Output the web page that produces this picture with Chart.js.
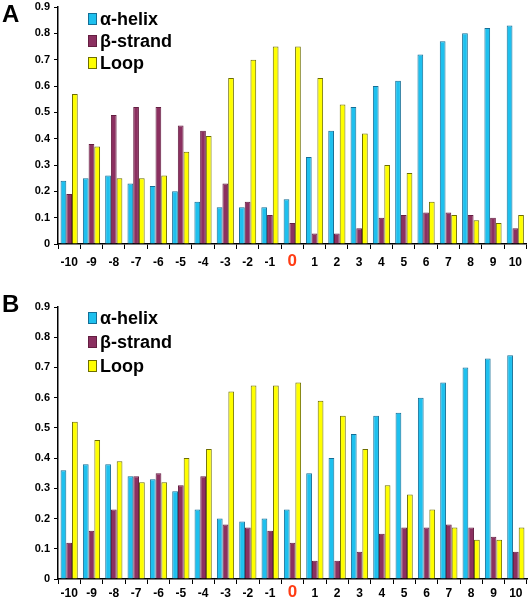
<!DOCTYPE html>
<html>
<head>
<meta charset="utf-8">
<script src="https://cdn.jsdelivr.net/npm/chart.js@4.4.0/dist/chart.umd.min.js"></script>
<style>
  body { margin: 0; background: #fff; }
  #wrap { position: relative; width: 528px; height: 600px; }
  .panel { position: absolute; left: 0; width: 528px; }
  .letter { position: absolute; left: 2px; font: bold 24px "Liberation Sans", Arial, sans-serif; color: #000; }
</style>
</head>
<body>
<div id="wrap">
  <div class="panel" style="top:0;height:290px"><canvas id="chartA"></canvas></div>
  <div class="panel" style="top:290px;height:310px"><canvas id="chartB"></canvas></div>
  <div class="letter" style="top:0px">A</div>
  <div class="letter" style="top:290px">B</div>
</div>
<script>
// posiciones relativas al residuo central
var posiciones = ['-10','-9','-8','-7','-6','-5','-4','-3','-2','-1','0','1','2','3','4','5','6','7','8','9','10'];
var nombresSeries = ['\u03B1-helix', '\u03B2-strand', 'Loop'];

// panel A
var helixA  = [0.24,0.25,0.26,0.23,0.22,0.20,0.16,0.14,0.14,0.14,0.17,0.33,0.43,0.52,0.60,0.62,0.72,0.77,0.80,0.82,0.83];
var strandA = [0.19,0.38,0.49,0.52,0.52,0.45,0.43,0.23,0.16,0.11,0.08,0.04,0.04,0.06,0.10,0.11,0.12,0.12,0.11,0.10,0.06];
var loopA   = [0.57,0.37,0.25,0.25,0.26,0.35,0.41,0.63,0.70,0.75,0.75,0.63,0.53,0.42,0.30,0.27,0.16,0.11,0.09,0.08,0.11];

// panel B
var helixB  = [0.36,0.38,0.38,0.34,0.33,0.29,0.23,0.20,0.19,0.20,0.23,0.35,0.40,0.48,0.54,0.55,0.60,0.65,0.70,0.73,0.74];
var strandB = [0.12,0.16,0.23,0.34,0.35,0.31,0.34,0.18,0.17,0.16,0.12,0.06,0.06,0.09,0.15,0.17,0.17,0.18,0.17,0.14,0.09];
var loopB   = [0.52,0.46,0.39,0.32,0.32,0.40,0.43,0.62,0.64,0.64,0.65,0.59,0.54,0.43,0.31,0.28,0.23,0.17,0.13,0.13,0.17];

var colores = ['rgb(30, 192, 238)', 'rgb(139, 48, 96)', 'rgb(255, 255, 0)'];
var bordes  = ['rgb(20, 110, 150)', 'rgb(100, 30, 65)', 'rgb(110, 110, 0)'];
var rojoCero = 'rgb(255, 60, 20)';

// leyenda dentro del area del grafico + el "0" rojo del eje x
var leyendaInterna = {
    id: 'leyendaInterna',
    afterDraw: function(chart, args, opts) {
        var ctx = chart.ctx;
        var x = chart.chartArea.left + 30;
        var y = chart.chartArea.top + opts.top;
        ctx.save();
        ctx.font = 'bold 18px "Liberation Sans", Arial, sans-serif';
        ctx.textBaseline = 'middle';
        chart.data.datasets.forEach(function(ds, i) {
            var cy = y + i * opts.gap;
            ctx.fillStyle = ds.backgroundColor;
            ctx.fillRect(x, cy - 6, 9, 12);
            ctx.strokeStyle = ds.borderColor;
            ctx.lineWidth = 1;
            ctx.strokeRect(x + 0.5, cy - 5.5, 8, 11);
            ctx.fillStyle = '#000';
            ctx.fillText(ds.label, x + 12, cy + 1);
        });

        // etiqueta del residuo 0, mas grande y en rojo
        var escalaX = chart.scales.x;
        var idx = posiciones.indexOf('0');
        ctx.font = 'bold 17px "Liberation Sans", Arial, sans-serif';
        ctx.fillStyle = rojoCero;
        ctx.textAlign = 'center';
        ctx.textBaseline = 'middle';
        ctx.fillText('0', escalaX.getPixelForTick(idx), chart.chartArea.bottom + opts.ceroY);
        ctx.restore();
    }
};

function crearGrafico(id, series, alturaX, padX, topPad, leyendaTop, leyendaGap, ceroY) {
    var data = {
        labels: posiciones,
        datasets: series.map(function(valores, i) {
            return {
                label: nombresSeries[i],
                data: valores,
                backgroundColor: colores[i],
                borderColor: bordes[i],
                borderWidth: 1,
                categoryPercentage: 0.77,
                barPercentage: 1.0
            };
        })
    };

    var config = {
        type: 'bar',
        data: data,
        plugins: [leyendaInterna],
        options: {
            responsive: true,
            maintainAspectRatio: false,
            animation: false,
            layout: { padding: { top: topPad, right: 1, left: 0, bottom: 0 } },
            plugins: {
                legend: { display: false },
                tooltip: { enabled: false },
                leyendaInterna: { top: leyendaTop, gap: leyendaGap, ceroY: ceroY }
            },
            scales: {
                x: {
                    grid: { drawOnChartArea: false, drawTicks: true, tickLength: 5, color: '#000', offset: true },
                    border: { display: true, color: '#000', width: 1.5 },
                    ticks: {
                        padding: padX,
                        maxRotation: 0,
                        autoSkip: false,
                        color: function(c) { return c.tick && c.tick.label === '0' ? 'rgba(0,0,0,0)' : '#000'; },
                        font: { family: '"Liberation Sans", Arial, sans-serif', weight: 'bold', size: 12 }
                    },
                    afterFit: function(scale) { scale.height = alturaX; }
                },
                y: {
                    min: 0,
                    max: 0.9,
                    ticks: {
                        stepSize: 0.1,
                        padding: 4,
                        color: '#000',
                        font: { family: '"Liberation Sans", Arial, sans-serif', weight: 'bold', size: 11 }
                    },
                    grid: { drawOnChartArea: false, drawTicks: true, tickLength: 4, color: '#000' },
                    border: { display: true, color: '#000', width: 1.5 },
                    afterFit: function(scale) { scale.width = 58; scale.paddingTop = 0; }
                }
            }
        }
    };

    return new Chart(document.getElementById(id), config);
}

crearGrafico('chartA', [helixA, strandA, loopA], 46, 6, 7, 12, 22, 17);
crearGrafico('chartB', [helixB, strandB, loopB], 21, 2, 17, 11, 24, 13);
</script>
</body>
</html>
